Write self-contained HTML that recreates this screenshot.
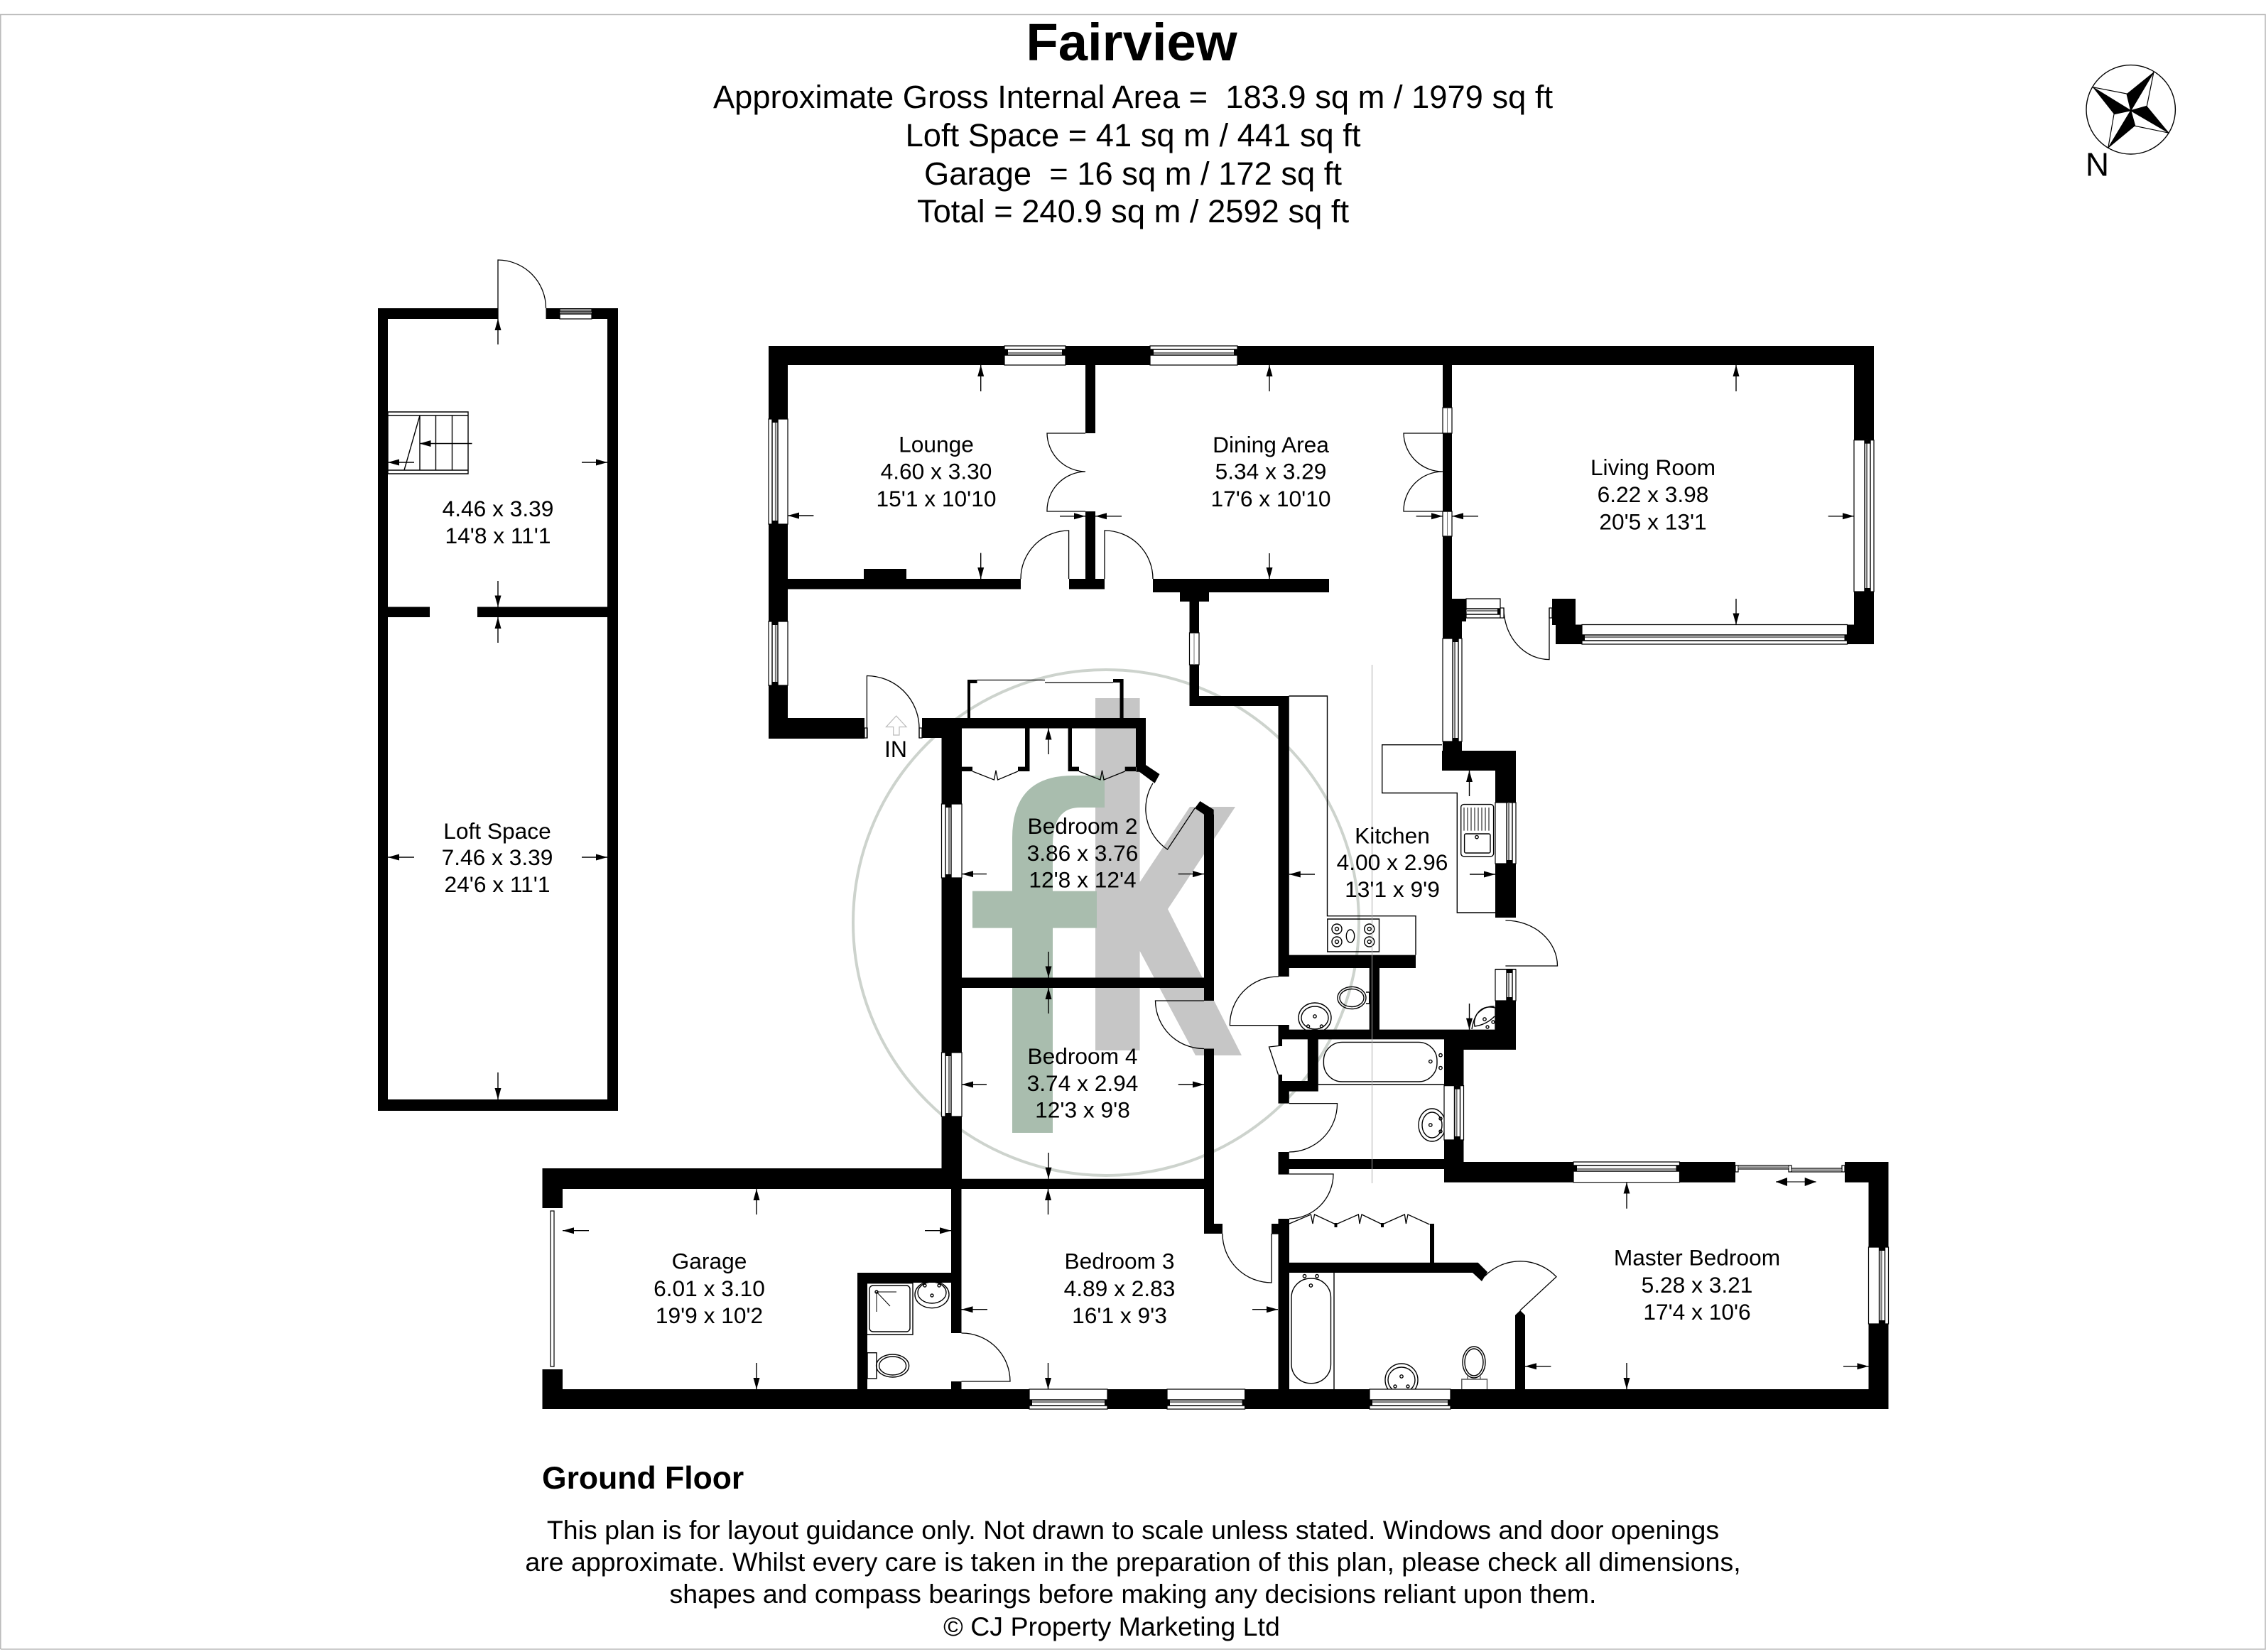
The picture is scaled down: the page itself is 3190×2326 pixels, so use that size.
<!DOCTYPE html>
<html><head><meta charset="utf-8"><style>
html,body{margin:0;padding:0;background:#fff;width:3190px;height:2326px;overflow:hidden}
svg{display:block}
text{font-family:"Liberation Sans",Arial,sans-serif;fill:#000;text-anchor:middle}
.t{font-size:31.7px}
.s{font-size:45.3px}
.d{font-size:37.5px}
.a line,line.a{stroke:#000;stroke-width:1.4;marker-end:url(#h)}
.th{fill:none;stroke:#000;stroke-width:1.4}
.gy{fill:none;stroke:#777;stroke-width:1.5}
</style></head><body>
<svg xmlns="http://www.w3.org/2000/svg" width="3190" height="2326" viewBox="0 0 3190 2326">
<defs><marker id="h" markerUnits="userSpaceOnUse" markerWidth="17" markerHeight="10" refX="16" refY="5" orient="auto"><path d="M0 0.5L16 5L0 9.5Z" fill="#000"/></marker>
<marker id="hs" markerUnits="userSpaceOnUse" markerWidth="17" markerHeight="12" refX="16" refY="6" orient="auto-start-reverse"><path d="M0 0L16 6L0 12Z" fill="#000"/></marker></defs>
<rect width="3190" height="2326" fill="#fff"/>
<path d="M0.8 2322V20.5H3189V2322H0.8" fill="none" stroke="#bbb" stroke-width="1.6"/>

<!-- watermark -->
<circle cx="1557" cy="1299" r="356" fill="none" stroke="#cdd3cd" stroke-width="4"/>
<path fill="#c6c6c6" d="M1542 983H1604.6V1242L1675 1136H1739L1644 1280L1748 1486H1683L1604.6 1339V1479H1542Z"/>
<path fill="#a9bdae" d="M1425 1595V1306.6H1369V1254.6H1425V1180Q1425 1092 1510 1092H1555V1137H1520Q1482 1137 1482 1190V1254.6H1544V1306.6H1482V1595Z"/>

<!-- fixtures -->
<g class="th">
<!-- stairs -->
<path fill="#fff" d="M546 580H659V667H546Z"/>
<path d="M546 585H659M546 662H659M591 585V662M613.5 585V662M636.5 585V662M591 585L569 662"/>
<!-- worktops -->
<path d="M1814.5 980H1868.5V1289.7H1993V1344.6M2030 1048.7H1945.7V1116.5H2051.3V1285H2105.6"/>
<path d="M1868.8 1294H1941.5V1340H1868.8Z"/>
<circle cx="1882" cy="1308" r="7"/><circle cx="1882" cy="1308" r="2.5"/><circle cx="1882" cy="1326" r="7"/><circle cx="1882" cy="1326" r="2.5"/>
<circle cx="1927.7" cy="1308" r="7"/><circle cx="1927.7" cy="1308" r="2.5"/><circle cx="1927.7" cy="1326" r="7"/><circle cx="1927.7" cy="1326" r="2.5"/>
<ellipse cx="1901" cy="1318" rx="5.7" ry="9"/>
<!-- sink -->
<rect x="2056.7" y="1132.6" width="45.9" height="73.2" rx="4"/>
<rect x="2061.6" y="1174" width="36.4" height="27" rx="2"/>
<circle cx="2079" cy="1178.6" r="2.2"/>
<path d="M2061 1137V1169.6M2066 1137V1169.6M2071 1137V1169.6M2076 1137V1169.6M2081 1137V1169.6M2086 1137V1169.6M2091 1137V1169.6M2096 1137V1169.6" stroke-width="1"/>
<!-- cloak basin + wc -->
<ellipse cx="1851" cy="1433" rx="23" ry="21"/><ellipse cx="1851" cy="1433" rx="19" ry="16"/><circle cx="1851" cy="1431" r="2.2"/><circle cx="1841.6" cy="1445" r="2"/><circle cx="1860.4" cy="1445" r="2"/>
<ellipse cx="1903" cy="1405" rx="20" ry="15.6"/><ellipse cx="1903" cy="1405" rx="17" ry="12.5"/><path d="M1923 1397H1927.7V1413H1923"/>
<!-- corner basin -->
<path d="M2105 1450V1419Q2078 1412 2072 1449"/><path d="M2104 1417Q2090 1416 2079 1428Q2074 1437 2076 1445Q2092 1443 2104 1431"/><circle cx="2090" cy="1435" r="2.2"/><circle cx="2102" cy="1439" r="2"/><circle cx="2094" cy="1446" r="2"/>
<!-- bath -->
<rect x="1863.4" y="1467.4" width="159.6" height="55.6" rx="26"/>
<path d="M1855.8 1527H2033"/><circle cx="2013.8" cy="1494.6" r="2.2"/><circle cx="2028" cy="1485.7" r="2.2"/><circle cx="2028" cy="1503.6" r="2.2"/>
<ellipse cx="2016" cy="1584" rx="19" ry="23"/><ellipse cx="2016" cy="1584" rx="14" ry="18"/><circle cx="2013.8" cy="1584" r="2.2"/><circle cx="2028" cy="1575" r="2"/><circle cx="2028" cy="1593" r="2"/>
<!-- master ensuite -->
<rect x="1818" y="1800" width="55.5" height="147.7" rx="27"/>
<path d="M1878 1792V1956"/><circle cx="1836.5" cy="1796.7" r="2.2"/><circle cx="1854" cy="1796.7" r="2.2"/><circle cx="1845.4" cy="1810" r="2.2"/>
<ellipse cx="1973" cy="1943" rx="23" ry="23"/><ellipse cx="1973" cy="1943" rx="19" ry="18"/><circle cx="1973" cy="1938" r="2.2"/><circle cx="1964" cy="1952" r="2"/><circle cx="1982" cy="1952" r="2"/>
<ellipse cx="2075" cy="1918" rx="16" ry="22"/><ellipse cx="2075" cy="1918" rx="13" ry="19"/><path d="M2066 1938V1942M2084 1938V1942M2057.8 1956V1942H2093.5V1956" stroke="#555"/>
<!-- garage shower room -->
<path d="M1221 1806.7H1285V1879H1221"/><rect x="1224" y="1810" width="57" height="65" rx="5"/>
<path d="M1234 1819H1262M1234 1819L1253 1839M1234 1819V1847" stroke-width="1"/><circle cx="1234" cy="1819" r="2"/>
<ellipse cx="1312" cy="1822.7" rx="24" ry="19"/><ellipse cx="1312" cy="1820" rx="20" ry="15"/><circle cx="1312" cy="1824" r="2"/><circle cx="1302" cy="1810" r="2"/><circle cx="1322" cy="1810" r="2"/>
<ellipse cx="1256.6" cy="1923" rx="23" ry="16"/><ellipse cx="1256.6" cy="1923" rx="19" ry="13"/><rect x="1221" y="1904.7" width="13" height="36.3"/>
</g>

<!-- walls -->
<path fill="#000" d="
M532 434H701V449H532ZM768.5 434H870V449H768.5ZM532 434H546V1564H532ZM855 434H870V1564H855ZM532 1548H870V1564H532ZM532 854.5H605V869H532ZM672 854.5H870V869H672Z
M1082 487H2638V514H1082ZM1082 487H1109V1040H1082ZM1082 1011H1217V1040H1082ZM1082 815H1437V829.5H1082ZM1216 801H1276V815H1216Z
M1528 514H1542V610H1528ZM1528 720H1542V829.5H1528ZM1505 815H1555V829.5H1505ZM1623 815H1871V834H1623ZM1661 834H1702V847H1661ZM1674.5 847H1688V994H1674.5ZM1674.5 980H1814.5V994H1674.5ZM1799.5 980H1814.8V1375H1799.5Z
M2610 487H2638V907H2610ZM2600 879.5H2638V907H2600ZM2031 514H2044V843H2031ZM2031 843H2058V1057H2031ZM2030 1057H2134V1085H2030ZM2105 1085H2134V1292H2105ZM2105 1364H2134V1478H2105ZM2033 1463H2134V1478H2033ZM1799.5 1449.6H2134V1463.4H1799.5ZM1799.5 1344.6H1993V1363H1799.5ZM1927.7 1363H1942V1449.6H1927.7Z
M2044 843H2112V848H2044ZM2185 843H2218V880H2185ZM2190 879.5H2227V907H2190ZM2058 843H2064V875H2058Z
M1799.5 1443.7H1814.8V1449.6H1799.5ZM1799.5 1463H1805V1473H1799.5ZM1840.8 1463H1855.8V1536.6H1840.8ZM1799.5 1522H1855.8V1536.6H1799.5ZM1799.5 1513H1805V1522H1799.5ZM1799.5 1536.6H1814.8V1553.6H1799.5Z
M1799.5 1622H1814.8V1653.6H1799.5ZM1814 1632H2033V1646H1814ZM2033 1478H2060.5V1664.7H2033ZM2033 1636H2443V1664.7H2033ZM2597 1636H2658.5V1664.7H2597ZM2630.5 1636H2658.5V1984H2630.5ZM763.5 1956H2658.5V1984H763.5Z
M1799.5 1716H1815V1956H1799.5ZM1790 1723H1815V1737.7H1790ZM1815 1777.7H2080.7L2094 1791L2086 1804L2073 1792H1815ZM2013 1723H2019V1777.7H2013ZM2133 1851.7L2140 1845L2147 1851.7V1956H2133Z
M1695 1146.7H1709V1409H1695ZM1695 1476.5H1709V1737H1695ZM1695 1723H1721V1737H1695Z
M1325.5 1011H1354V1674H1325.5ZM1298 1011H1613V1025.5H1298ZM1298 1025.5H1354V1039H1298ZM1599 1011H1613V1080H1599ZM1599.5 1077H1613L1632.5 1090L1625.6 1102.7L1604 1086.7H1599.5Z
M1689.4 1128L1708.7 1140V1146.7H1695L1682 1138ZM1354 1376.5H1709V1391H1354ZM1325.5 1659.7H1709V1674H1325.5Z
M1443 1025.5H1449.5V1086H1443ZM1433 1079.6H1449.5V1086H1433ZM1354 1079.6H1369V1086H1354ZM1503.6 1025.5H1509V1086H1503.6ZM1503.6 1079.6H1519V1086H1503.6ZM1583.7 1079.6H1599V1086H1583.7Z
M1362 957H1366V1011H1362ZM1362 957H1375.5V962H1362ZM1576.5 956H1581.6V1011H1576.5ZM1567 956H1581.6V961H1567Z
M763.5 1645H1353.5V1674H763.5ZM763.5 1645H792V1701H763.5ZM763.5 1928H792V1984H763.5ZM1339 1674H1353.5V1877H1339ZM1339 1945H1353.5V1956H1339ZM1207 1792H1339V1806H1207ZM1207 1792H1221V1956H1207Z"/>

<!-- windows: white bodies -->
<path fill="#fff" stroke="#000" stroke-width="1.2" d="
M788 435H833V449H788ZM1414 487H1500V514H1414ZM1619 487H1742V514H1619ZM2215 1636H2364.5V1664.7H2215Z
M1449 1956H1559V1984H1449ZM1643 1956H1752.6V1984H1643ZM1928 1956H2042V1984H1928ZM2227 879.5H2600.5V907H2227ZM2064 843H2112V870H2064Z
M1082 590H1109V738H1082ZM1082 875H1109V965H1082ZM1325.5 1132H1354V1236H1325.5ZM1325.5 1482H1354V1572H1325.5Z
M2610 619.6H2638V833H2610ZM2105 1130H2134V1216H2105ZM2105 1365H2134V1409H2105ZM2033 1528.6H2060.5V1605H2033ZM2630.5 1756H2658.5V1864H2630.5ZM2031 899H2058V1044H2031Z
M2031 574H2044V610H2031ZM2031 720H2044V755H2031ZM1674.5 891H1688V936H1674.5Z
M2443 1641H2447V1650H2443ZM2447 1641H2518V1646H2447ZM2518 1641H2522V1650H2518ZM2522 1645H2593V1650H2522ZM2593 1641H2597V1650H2593Z
M1217 1025H1221V1039H1217ZM1294 1025H1298V1039H1294ZM775 1705H780V1924H775ZM2112 856H2117V870H2112ZM2181 856H2185V870H2181Z"/>
<!-- windows: black lines -->
<path fill="none" stroke="#000" stroke-width="1.4" d="
M788 438H833M788 442H833M1414 492H1500M1414 500H1500M1619 492H1742M1619 500H1742M2215 1641H2364.5M2215 1649H2364.5
M1449 1979H1559M1449 1971H1559M1643 1979H1752.6M1643 1971H1752.6M1928 1979H2042M1928 1971H2042M2227 902H2600.5M2227 894H2600.5M2064 865H2112M2064 857H2112
M1087 590V738M1095 590V738M1087 875V965M1095 875V965M1331 1132V1236M1339 1132V1236M1331 1482V1572M1339 1482V1572
M2633 619.6V833M2625 619.6V833M2129 1130V1216M2121 1130V1216M2129 1365V1409M2121 1365V1409M2055.5 1528.6V1605M2047.5 1528.6V1605M2653.5 1756V1864M2645.5 1756V1864M2053 899V1044M2045 899V1044"/>
<!-- windows: grey lines -->
<path fill="none" stroke="#777" stroke-width="2.3" d="
M788 440H833M1414 497H1500M1619 497H1742M2215 1646H2364.5M1449 1974H1559M1643 1974H1752.6M1928 1974H2042M2227 897H2600.5M2064 860H2112
M1092 590V738M1092 875V965M1336 1132V1236M1336 1482V1572M2628 619.6V833M2124 1130V1216M2124 1365V1409M2050.5 1528.6V1605M2648.5 1756V1864M2048 899V1044
M2447 1643.5H2518M2522 1647.5H2593"/>
<path fill="none" stroke="#777" stroke-width="1" d="M2037.5 574V610M2037.5 720V755M1681 891V936"/>
<!-- window nubs -->
<path fill="#000" d="M1414 492h5v8h-5zM1495 492h5v8h-5zM1619 492h5v8h-5zM1737 492h5v8h-5zM2215 1641h5v8h-5zM2359.5 1641h5v8h-5zM1449 1971h4v8h-4zM1555 1971h4v8h-4zM1643 1971h4v8h-4zM1748.6 1971h4v8h-4zM1928 1971h4v8h-4zM2038 1971h4v8h-4zM2227 894h4v8h-4zM2596.5 894h4v8h-4zM2108 857h4v8h-4zM1087 590h8v5h-8zM1087 733h8v5h-8zM1087 875h8v5h-8zM1087 960h8v5h-8zM1331 1132h8v5h-8zM1331 1231h8v5h-8zM1331 1482h8v5h-8zM1331 1567h8v5h-8zM2625 619.6h8v5h-8zM2625 828h8v5h-8zM2121 1211h8v5h-8zM2121 1365h8v5h-8zM2121 1404h8v5h-8zM2047.5 1528.6h8v5h-8zM2047.5 1600h8v5h-8zM2645.5 1756h8v5h-8zM2645.5 1859h8v5h-8zM2045 1039h8v5h-8zM2045 899h8v5h-8z"/>

<!-- doors -->
<path fill="none" stroke="#000" stroke-width="1.3" d="
M701 449V366A68 68 0 0 1 768.5 434
M1220.4 1039V951.5A74 74 0 0 1 1294 1025V1039
M1504.6 815V747A68 68 0 0 0 1437 815
M1555 815V747A68 68 0 0 1 1623 815
M1528 610H1474A55 55 0 0 0 1528 664A55 55 0 0 0 1474 720H1528
M2044 610H1976A55 55 0 0 0 2031 664A55 55 0 0 0 1976 720H2044
M2117 856A64 72 0 0 0 2181 928.6V856
M2119.4 1296A73 64 0 0 1 2192.5 1360H2119.4
M1800 1375A68 68 0 0 0 1731.4 1443.7H1814.8
M1814.8 1553.6H1882.5A68 68 0 0 1 1814.8 1622
M1815 1653H1877A63 63 0 0 1 1815 1716
M1721 1737A69 69 0 0 0 1790 1806V1737
M1695 1409H1626.5A68 68 0 0 0 1695 1476.5
M1682 1138L1643.5 1196A69 69 0 0 1 1623 1102.7
M2140 1845L2191 1797.7A70 70 0 0 0 2090 1797
M1353.5 1877A68 68 0 0 1 1422 1945H1353.5
M1369 1086L1399.5 1098L1402 1084.7L1404.6 1098L1433 1086
M1519 1086L1549 1098L1551.5 1084.7L1554 1098L1583.7 1086
M1815 1723L1845.4 1710L1848 1723L1850.5 1710L1880.5 1724L1912.4 1710L1914 1723L1917 1710L1946 1724L1977.4 1710L1979.4 1723L1982 1710L2012.5 1724
M1805 1472L1786.5 1474L1799.5 1513
M1375.5 957.5H1471M1471 961H1567"/>
<path fill="#000" d="M1878.5 1722h4v6h-4zM1944 1722h4v6h-4z"/>
<path class="gy" stroke-width="1" d="M1931.5 936V1666" style="stroke:#aaa;stroke-width:1"/>
<path d="M1261.7 1008L1276 1023.5H1266V1035H1257.7V1023.5H1247.5Z" fill="#fff" stroke="#bbb" stroke-width="1.2"/>

<!-- dimension arrows -->
<g class="a">
<line x1="701" y1="485" x2="701" y2="449"/><line x1="664.5" y1="624.5" x2="590.6" y2="624.5"/><line x1="583" y1="651" x2="546" y2="651"/><line x1="819" y1="651" x2="855" y2="651"/><line x1="701" y1="818" x2="701" y2="854.5"/><line x1="701" y1="905" x2="701" y2="869"/>
<line x1="583" y1="1207" x2="546" y2="1207"/><line x1="819" y1="1207" x2="855" y2="1207"/><line x1="701" y1="1510" x2="701" y2="1548"/>
<line x1="1380.7" y1="551" x2="1380.7" y2="514"/><line x1="1145.4" y1="726" x2="1109" y2="726"/><line x1="1380.7" y1="778.6" x2="1380.7" y2="815"/><line x1="1492" y1="726.8" x2="1528" y2="726.8"/>
<line x1="1787" y1="551" x2="1787" y2="514"/><line x1="1579" y1="726.8" x2="1542" y2="726.8"/><line x1="1993.6" y1="726.8" x2="2031" y2="726.8"/><line x1="1787" y1="779" x2="1787" y2="815"/>
<line x1="2081" y1="726.8" x2="2044" y2="726.8"/><line x1="2444" y1="551" x2="2444" y2="514"/><line x1="2573.7" y1="726.8" x2="2610" y2="726.8"/><line x1="2444" y1="843" x2="2444" y2="879.5"/>
<line x1="1389" y1="1230.6" x2="1354" y2="1230.6"/><line x1="1658.7" y1="1230.6" x2="1695" y2="1230.6"/><line x1="1476" y1="1062" x2="1476" y2="1025.5"/><line x1="1476" y1="1340" x2="1476" y2="1376.5"/>
<line x1="1476" y1="1427" x2="1476" y2="1391"/><line x1="1389" y1="1527" x2="1354" y2="1527"/><line x1="1658.7" y1="1527" x2="1695" y2="1527"/><line x1="1476" y1="1623" x2="1476" y2="1659.7"/>
<line x1="1475.5" y1="1710" x2="1475.5" y2="1674"/><line x1="1390" y1="1843.7" x2="1353.5" y2="1843.7"/><line x1="1763" y1="1843.7" x2="1799" y2="1843.7"/><line x1="1475.5" y1="1919" x2="1475.5" y2="1956"/>
<line x1="1065" y1="1710" x2="1065" y2="1674"/><line x1="829" y1="1732.7" x2="792" y2="1732.7"/><line x1="1302" y1="1732.7" x2="1339" y2="1732.7"/><line x1="1065" y1="1919" x2="1065" y2="1956"/>
<line x1="2290" y1="1701.7" x2="2290" y2="1664.7"/><line x1="2290" y1="1919" x2="2290" y2="1956"/><line x1="2183.4" y1="1923.7" x2="2147" y2="1923.7"/><line x1="2595" y1="1923.7" x2="2630.5" y2="1923.7"/>
<line x1="2068.5" y1="1121" x2="2068.5" y2="1085"/><line x1="1851" y1="1231" x2="1814.8" y2="1231"/><line x1="2069" y1="1231" x2="2105" y2="1231"/><line x1="2068.5" y1="1413" x2="2068.5" y2="1449.6"/>
</g>
<line x1="2500" y1="1664" x2="2556.7" y2="1664" stroke="#444" stroke-width="1.5" marker-start="url(#hs)" marker-end="url(#hs)"/>

<!-- compass -->
<circle cx="2999.7" cy="154.3" r="62.7" fill="none" stroke="#000" stroke-width="1.4"/>
<path fill="#fff" stroke="#000" stroke-width="1.2" d="M3032 101.3L3022.3 149.3L2999.7 155.7ZM2946 122.7L2994 132L2999.7 155.7ZM2967.7 208.7L2976 160.7L2999.7 155.7ZM3053.7 187.3L3005.7 177.3L2999.7 155.7Z"/>
<path fill="#000" d="M3032 101.3L2994 132L2999.7 155.7ZM2946 122.7L2976 160.7L2999.7 155.7ZM2967.7 208.7L3005.7 177.3L2999.7 155.7ZM3053.7 187.3L3022.3 149.3L2999.7 155.7Z"/>
<text x="2952.5" y="247.7" style="font-size:46px">N</text>

<!-- titles -->
<text x="1593" y="85" style="font-size:74.3px;font-weight:bold">Fairview</text>
<text class="s" x="1595" y="152" xml:space="preserve">Approximate Gross Internal Area =  183.9 sq m / 1979 sq ft</text>
<text class="s" x="1595" y="206">Loft Space = 41 sq m / 441 sq ft</text>
<text class="s" x="1595" y="260" xml:space="preserve">Garage  = 16 sq m / 172 sq ft</text>
<text class="s" x="1595" y="313">Total = 240.9 sq m / 2592 sq ft</text>

<!-- room labels -->
<text class="t" x="701" y="727">4.46 x 3.39</text><text class="t" x="701" y="765">14'8 x 11'1</text>
<text class="t" x="700" y="1181">Loft Space</text><text class="t" x="700" y="1218">7.46 x 3.39</text><text class="t" x="700" y="1256">24'6 x 11'1</text>
<text class="t" x="1318" y="636.6">Lounge</text><text class="t" x="1318" y="674.5">4.60 x 3.30</text><text class="t" x="1318" y="713">15'1 x 10'10</text>
<text class="t" x="1789" y="637">Dining Area</text><text class="t" x="1789" y="674.5">5.34 x 3.29</text><text class="t" x="1789" y="713">17'6 x 10'10</text>
<text class="t" x="2327" y="669">Living Room</text><text class="t" x="2327" y="707">6.22 x 3.98</text><text class="t" x="2327" y="745.5">20'5 x 13'1</text>
<text class="t" x="1960" y="1187.5">Kitchen</text><text class="t" x="1960" y="1225">4.00 x 2.96</text><text class="t" x="1960" y="1263">13'1 x 9'9</text>
<text class="t" x="1524" y="1174">Bedroom 2</text><text class="t" x="1524" y="1212">3.86 x 3.76</text><text class="t" x="1524" y="1249.5">12'8 x 12'4</text>
<text class="t" x="1524" y="1498">Bedroom 4</text><text class="t" x="1524" y="1536">3.74 x 2.94</text><text class="t" x="1524" y="1573.5">12'3 x 9'8</text>
<text class="t" x="998.5" y="1786.7">Garage</text><text class="t" x="998.5" y="1825">6.01 x 3.10</text><text class="t" x="998.5" y="1863">19'9 x 10'2</text>
<text class="t" x="1576" y="1786.7">Bedroom 3</text><text class="t" x="1576" y="1825">4.89 x 2.83</text><text class="t" x="1576" y="1863">16'1 x 9'3</text>
<text class="t" x="2389" y="1781.7">Master Bedroom</text><text class="t" x="2389" y="1820">5.28 x 3.21</text><text class="t" x="2389" y="1858">17'4 x 10'6</text>
<text x="1261" y="1066" style="font-size:32px">IN</text>

<!-- footer -->
<text x="763" y="2096" style="font-size:44.5px;font-weight:bold;text-anchor:start">Ground Floor</text>
<text class="d" x="1595" y="2167">This plan is for layout guidance only. Not drawn to scale unless stated. Windows and door openings</text>
<text class="d" x="1595" y="2212">are approximate. Whilst every care is taken in the preparation of this plan, please check all dimensions,</text>
<text class="d" x="1595" y="2257">shapes and compass bearings before making any decisions reliant upon them.</text>
<text class="d" x="1565" y="2303">© CJ Property Marketing Ltd</text>
</svg>
</body></html>
